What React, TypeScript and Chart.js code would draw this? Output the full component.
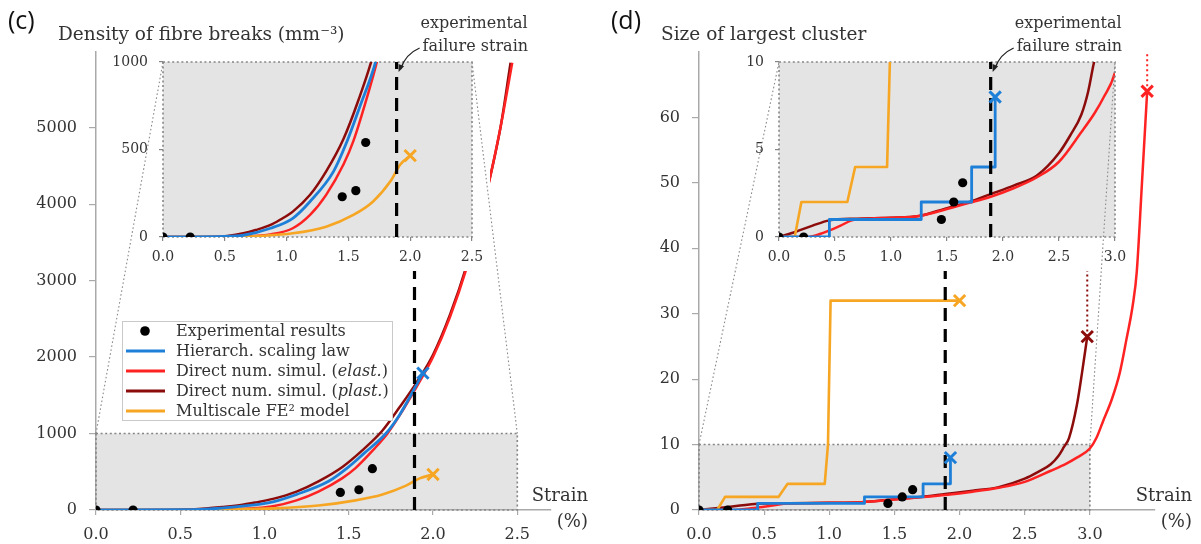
import { useEffect, useRef } from "react";
import { Chart, registerables } from "chart.js";

Chart.register(...registerables);

const SERIF = '"DejaVu Serif", "Liberation Serif", serif';
const SANS = '"Open Sans", "Liberation Sans", sans-serif';

const COLOR_EXP = "#000000";
const COLOR_HIER = "#1e7fd8";
const COLOR_ELAST = "#ff2222";
const COLOR_PLAST = "#8c0b0b";
const COLOR_FE2 = "#f6a623";
const COLOR_SHADE = "#e4e4e4";
const COLOR_AXIS = "#a9a9a9";
const COLOR_DOTS = "#858585";
const COLOR_TEXT = "#333333";

const FAILURE_STRAIN = 1.89;

// ---- (c) density of fibre breaks (mm^-3) against strain (%) ----
const C_EXP_STRAIN = [0, 0.22, 1.45, 1.56, 1.64];
const C_EXP_DENSITY = [0, 0, 230, 265, 540];

const C_HIER_STRAIN = [0, 0.5, 0.65, 0.87, 1.05, 1.19, 1.38, 1.49, 1.59, 1.72, 1.8, 1.94];
const C_HIER_DENSITY = [0, 3, 10, 50, 107, 203, 375, 548, 740, 1000, 1240, 1790];

const C_ELAST_STRAIN = [0, 0.6, 0.87, 1.05, 1.19, 1.32, 1.46, 1.54, 1.65, 1.73, 1.8, 1.9, 2.0, 2.1, 2.2, 2.3, 2.4, 2.47];
const C_ELAST_DENSITY = [0, 3, 15, 50, 126, 241, 414, 548, 797, 1000, 1230, 1600, 2000, 2520, 3170, 3980, 5000, 5850];

const C_PLAST_STRAIN = [0, 0.4, 0.52, 0.65, 0.75, 0.87, 0.95, 1.05, 1.19, 1.32, 1.46, 1.58, 1.7, 1.8, 1.9, 2.0, 2.1, 2.2, 2.3, 2.4, 2.46];
const C_PLAST_DENSITY = [0, 0, 6, 21, 40, 69, 100, 145, 241, 375, 560, 780, 1040, 1340, 1660, 2030, 2550, 3200, 4000, 5000, 5850];

const C_FE2_STRAIN = [0, 0.5, 0.78, 1.05, 1.32, 1.54, 1.7, 1.84, 1.92, 2.0];
const C_FE2_DENSITY = [0, 0, 6, 21, 59, 126, 203, 318, 414, 465];

const C_X_TICKS = [0, 0.5, 1, 1.5, 2, 2.5];
const C_Y_TICKS = [0, 1000, 2000, 3000, 4000, 5000];
const C_INSET_Y_TICKS = [0, 500, 1000];
const C_ZOOM: [number, number] = [2.5, 1000];

// ---- (d) size of largest cluster against strain (%) ----
const D_EXP_STRAIN = [0, 0.22, 1.45, 1.56, 1.64];
const D_EXP_SIZE = [0, 0, 1, 2, 3.1];

const D_HIER_STRAIN = [0, 0.45, 0.45, 1.27, 1.27, 1.72, 1.72, 1.93, 1.93];
const D_HIER_SIZE = [0, 0, 1, 1, 2, 2, 4, 4, 8];

const D_ELAST_STRAIN = [0, 0.25, 0.4, 0.55, 0.65, 0.8, 1.0, 1.25, 1.5, 1.7, 1.89, 2.1, 2.3, 2.5, 2.7, 2.82, 2.9, 3.0, 3.05, 3.1, 3.17, 3.23, 3.28, 3.33, 3.36, 3.4, 3.44];
const D_ELAST_SIZE = [0, 0, 0.25, 0.65, 0.95, 1.05, 1.1, 1.2, 1.6, 1.95, 2.3, 2.8, 3.4, 4.3, 6.0, 7.1, 8.0, 9.4, 11, 13.5, 17, 21, 26, 31.4, 36.4, 50, 64];

const D_PLAST_STRAIN = [0, 0.15, 0.3, 0.45, 0.7, 1.0, 1.25, 1.5, 1.7, 1.89, 2.1, 2.3, 2.5, 2.6, 2.7, 2.76, 2.8, 2.84, 2.9, 2.94, 2.98];
const D_PLAST_SIZE = [0, 0.3, 0.65, 0.95, 1.05, 1.1, 1.2, 1.65, 2.0, 2.45, 2.95, 3.5, 4.8, 5.8, 7.0, 8.3, 9.6, 11, 16, 21, 26.5];

const D_FE2_STRAIN = [0, 0.14, 0.2, 0.61, 0.68, 0.965, 0.99, 1.01, 2.0];
const D_FE2_SIZE = [0, 0, 2, 2, 4, 4, 10, 32, 32];

const D_X_TICKS = [0, 0.5, 1, 1.5, 2, 2.5, 3];
const D_Y_TICKS = [0, 10, 20, 30, 40, 50, 60];
const D_INSET_Y_TICKS = [0, 5, 10];
const D_ZOOM: [number, number] = [3, 10];

type Rich = [string, boolean][];

const NAME_EXP: Rich = [["Experimental results", false]];
const NAME_HIER: Rich = [["Hierarch. scaling law", false]];
const NAME_ELAST: Rich = [["Direct num. simul. (", false], ["elast.", true], [")", false]];
const NAME_PLAST: Rich = [["Direct num. simul. (", false], ["plast.", true], [")", false]];
const NAME_FE2: Rich = [["Multiscale FE\u00B2 model", false]];

interface Curve {
  name: Rich;
  color: string;
  strain: number[];
  value: number[];
  smooth: boolean;
  width: number;
  marker: boolean;
  extend: boolean;
  order: number;
}

interface Frame {
  padding: { left: number; right: number; top: number; bottom: number };
  yWidth: number;
  xHeight: number;
}

interface Panel {
  label: string;
  title: string;
  exp: [number[], number[]];
  curves: Curve[];
  xMax: number;
  yMax: number;
  xTicks: number[];
  yTicks: number[];
  insetYTicks: number[];
  zoom: [number, number];
  legend: boolean;
  main: Frame;
  inset: Frame;
}

const PANEL_C: Panel = {
  label: "(c)",
  title: "Density of fibre breaks (mm\u207B\u00B3)",
  exp: [C_EXP_STRAIN, C_EXP_DENSITY],
  curves: [
    { name: NAME_HIER, color: COLOR_HIER, strain: C_HIER_STRAIN, value: C_HIER_DENSITY, smooth: true, width: 2.8, marker: true, extend: false, order: 3 },
    { name: NAME_ELAST, color: COLOR_ELAST, strain: C_ELAST_STRAIN, value: C_ELAST_DENSITY, smooth: true, width: 2.5, marker: false, extend: false, order: 5 },
    { name: NAME_PLAST, color: COLOR_PLAST, strain: C_PLAST_STRAIN, value: C_PLAST_DENSITY, smooth: true, width: 2.5, marker: false, extend: false, order: 6 },
    { name: NAME_FE2, color: COLOR_FE2, strain: C_FE2_STRAIN, value: C_FE2_DENSITY, smooth: true, width: 2.6, marker: true, extend: false, order: 4 },
  ],
  xMax: 2.7,
  yMax: 5990,
  xTicks: C_X_TICKS,
  yTicks: C_Y_TICKS,
  insetYTicks: C_INSET_Y_TICKS,
  zoom: C_ZOOM,
  legend: true,
  main: { padding: { left: 36, right: 49, top: 52, bottom: 0 }, yWidth: 60, xHeight: 34 },
  inset: { padding: { left: 113, right: 128, top: 62, bottom: 277 }, yWidth: 50, xHeight: 30 },
};

const PANEL_D: Panel = {
  label: "(d)",
  title: "Size of largest cluster",
  exp: [D_EXP_STRAIN, D_EXP_SIZE],
  curves: [
    { name: NAME_HIER, color: COLOR_HIER, strain: D_HIER_STRAIN, value: D_HIER_SIZE, smooth: false, width: 2.8, marker: true, extend: false, order: 3 },
    { name: NAME_ELAST, color: COLOR_ELAST, strain: D_ELAST_STRAIN, value: D_ELAST_SIZE, smooth: true, width: 2.5, marker: true, extend: true, order: 5 },
    { name: NAME_PLAST, color: COLOR_PLAST, strain: D_PLAST_STRAIN, value: D_PLAST_SIZE, smooth: true, width: 2.5, marker: true, extend: true, order: 6 },
    { name: NAME_FE2, color: COLOR_FE2, strain: D_FE2_STRAIN, value: D_FE2_SIZE, smooth: false, width: 2.6, marker: true, extend: false, order: 4 },
  ],
  xMax: 3.5,
  yMax: 70,
  xTicks: D_X_TICKS,
  yTicks: D_Y_TICKS,
  insetYTicks: D_INSET_Y_TICKS,
  zoom: D_ZOOM,
  legend: false,
  main: { padding: { left: 39, right: 46, top: 52, bottom: 0 }, yWidth: 60, xHeight: 34 },
  inset: { padding: { left: 129, right: 86, top: 62, bottom: 277 }, yWidth: 50, xHeight: 30 },
};

const pts = (xs: number[], ys: number[]) => xs.map((x, i) => ({ x, y: ys[i] }));

function buildDatasets(p: Panel, yTop: number) {
  const ds: any[] = [];
  ds.push({
    data: pts(p.exp[0], p.exp[1]),
    showLine: false,
    pointRadius: 4.6,
    pointStyle: "circle",
    pointBackgroundColor: COLOR_EXP,
    pointBorderColor: COLOR_EXP,
    pointBorderWidth: 0,
    order: 0,
  });
  ds.push({
    data: [
      { x: FAILURE_STRAIN, y: 0 },
      { x: FAILURE_STRAIN, y: yTop },
    ],
    borderColor: "#000",
    borderWidth: 3.2,
    borderDash: [13, 8],
    pointRadius: 0,
    tension: 0,
    order: 2,
  });
  for (const c of p.curves) {
    ds.push({
      data: pts(c.strain, c.value),
      borderColor: c.color,
      borderWidth: c.width,
      pointRadius: 0,
      tension: c.smooth ? 0.3 : 0,
      cubicInterpolationMode: c.smooth ? "monotone" : "default",
      borderJoinStyle: "round",
      order: c.order,
    });
    const last = { x: c.strain[c.strain.length - 1], y: c.value[c.value.length - 1] };
    if (c.marker) {
      ds.push({
        data: [last],
        showLine: false,
        pointStyle: "crossRot",
        pointRadius: 8,
        pointBorderWidth: 3,
        pointBorderColor: c.color,
        pointBackgroundColor: c.color,
        order: 1,
      });
    }
    if (c.extend) {
      ds.push({
        data: [last, { x: last.x, y: yTop }],
        borderColor: c.color,
        borderWidth: 2,
        borderDash: [2, 3],
        pointRadius: 0,
        tension: 0,
        order: c.order,
      });
    }
  }
  return ds;
}

function axis(
  max: number,
  ticks: number[],
  fmt: (v: number) => string,
  fontSize: number,
  tickLength: number,
  padding: number,
  size: number,
  horizontal: boolean,
  solid: boolean
) {
  return {
    type: "linear",
    min: 0,
    max,
    afterBuildTicks: (s: any) => {
      s.ticks = ticks.map((v) => ({ value: v }));
    },
    afterFit: (s: any) => {
      if (horizontal) s.height = size;
      else s.width = size;
    },
    ticks: {
      callback: (v: number) => fmt(Number(v)),
      font: { family: SERIF, size: fontSize },
      color: COLOR_TEXT,
      padding,
      maxRotation: 0,
      autoSkip: false,
    },
    grid: {
      display: true,
      drawOnChartArea: false,
      drawTicks: true,
      tickLength,
      color: solid ? COLOR_AXIS : COLOR_DOTS,
      lineWidth: 1.2,
    },
    border: { display: solid, color: COLOR_AXIS, width: 1.5 },
  };
}

function dottedRect(ctx: CanvasRenderingContext2D, l: number, t: number, r: number, b: number) {
  ctx.save();
  ctx.strokeStyle = COLOR_DOTS;
  ctx.lineWidth = 1.6;
  ctx.setLineDash([2, 2.6]);
  ctx.strokeRect(l, t, r - l, b - t);
  ctx.restore();
}

function drawRich(ctx: CanvasRenderingContext2D, parts: Rich, x: number, y: number, size: number) {
  let cx = x;
  for (const [text, italic] of parts) {
    ctx.font = `${italic ? "italic " : ""}${size}px ${SERIF}`;
    ctx.fillText(text, cx, y);
    cx += ctx.measureText(text).width;
  }
}

function mainDecor(p: Panel) {
  return {
    id: "mainDecor",
    beforeDraw(chart: any) {
      const { ctx } = chart;
      const x = chart.scales.x;
      const y = chart.scales.y;
      const l = x.getPixelForValue(0);
      const r = x.getPixelForValue(p.zoom[0]);
      const t = y.getPixelForValue(p.zoom[1]);
      const b = y.getPixelForValue(0);
      ctx.save();
      ctx.fillStyle = COLOR_SHADE;
      ctx.fillRect(l, t, r - l, b - t);
      ctx.restore();
    },
    beforeDatasetsDraw(chart: any) {
      const x = chart.scales.x;
      const y = chart.scales.y;
      dottedRect(
        chart.ctx,
        x.getPixelForValue(0),
        y.getPixelForValue(p.zoom[1]),
        x.getPixelForValue(p.zoom[0]),
        y.getPixelForValue(0)
      );
    },
    afterDraw(chart: any) {
      const { ctx, chartArea: ca } = chart;
      ctx.save();
      ctx.textBaseline = "middle";
      ctx.textAlign = "left";
      ctx.fillStyle = "#111";
      ctx.font = `25px ${SANS}`;
      ctx.fillText(p.label, ca.left - 88, 22);
      ctx.fillStyle = COLOR_TEXT;
      ctx.font = `18.5px ${SERIF}`;
      ctx.fillText(p.title, ca.left - 38, ca.top - 17);
      ctx.textAlign = "right";
      ctx.font = `18px ${SERIF}`;
      ctx.fillText("Strain", ca.right + 37, ca.bottom - 14);
      ctx.fillText("(%)", ca.right + 37, ca.bottom + 12);

      if (p.legend) {
        const x0 = ca.left + 26;
        const y0 = ca.top + 269;
        const w = 270;
        const h = 99;
        ctx.fillStyle = "#fff";
        ctx.fillRect(x0, y0, w, h);
        ctx.strokeStyle = "#c9c9c9";
        ctx.lineWidth = 1;
        ctx.strokeRect(x0 + 0.5, y0 + 0.5, w, h);
        const entries: { name: Rich; color: string; dot: boolean }[] = [
          { name: NAME_EXP, color: COLOR_EXP, dot: true },
          ...p.curves.map((c) => ({ name: c.name, color: c.color, dot: false })),
        ];
        entries.forEach((e, i) => {
          const cy = y0 + 10 + i * 20;
          if (e.dot) {
            ctx.fillStyle = e.color;
            ctx.beginPath();
            ctx.arc(x0 + 23, cy, 4.8, 0, Math.PI * 2);
            ctx.fill();
          } else {
            ctx.strokeStyle = e.color;
            ctx.lineWidth = 3;
            ctx.beginPath();
            ctx.moveTo(x0 + 4, cy);
            ctx.lineTo(x0 + 43, cy);
            ctx.stroke();
          }
          ctx.fillStyle = COLOR_TEXT;
          ctx.textAlign = "left";
          drawRich(ctx, e.name, x0 + 54, cy + 1, 16);
        });
      }
      ctx.restore();
    },
  };
}

function insetDecor(p: Panel, main: Chart) {
  return {
    id: "insetDecor",
    beforeDraw(chart: any) {
      const { ctx, chartArea: ca } = chart;
      ctx.save();
      ctx.fillStyle = "#fff";
      ctx.fillRect(ca.left - 60, ca.top - 10, ca.right - ca.left + 78, ca.bottom - ca.top + 44);
      ctx.fillStyle = COLOR_SHADE;
      ctx.fillRect(ca.left, ca.top, ca.right - ca.left, ca.bottom - ca.top);
      ctx.restore();
    },
    beforeDatasetsDraw(chart: any) {
      const ca = chart.chartArea;
      dottedRect(chart.ctx, ca.left, ca.top, ca.right, ca.bottom);
    },
    afterDraw(chart: any) {
      const { ctx, chartArea: ca } = chart;
      const mx = (main as any).scales.x;
      const my = (main as any).scales.y;
      ctx.save();
      // zoom connectors from the shaded window to the inset
      ctx.strokeStyle = "#8a8a8a";
      ctx.lineWidth = 1.1;
      ctx.setLineDash([1.6, 2.4]);
      ctx.beginPath();
      ctx.moveTo(mx.getPixelForValue(0), my.getPixelForValue(p.zoom[1]));
      ctx.lineTo(ca.left, ca.top);
      ctx.moveTo(mx.getPixelForValue(p.zoom[0]), my.getPixelForValue(p.zoom[1]));
      ctx.lineTo(ca.right, ca.top);
      ctx.stroke();
      ctx.setLineDash([]);

      // failure strain annotation
      const fx = chart.scales.x.getPixelForValue(FAILURE_STRAIN);
      ctx.fillStyle = COLOR_TEXT;
      ctx.font = `16px ${SERIF}`;
      ctx.textAlign = "left";
      ctx.textBaseline = "middle";
      ctx.fillText("experimental", fx + 24, 24);
      ctx.fillText("failure strain", fx + 26, 47);

      const sx = fx + 23;
      const sy = 48;
      const ex = fx + 2;
      const ey = 72;
      const cx = fx + 9;
      const cy = 54;
      ctx.strokeStyle = "#222";
      ctx.lineWidth = 1.3;
      ctx.beginPath();
      ctx.moveTo(sx, sy);
      ctx.quadraticCurveTo(cx, cy, ex + 2, ey - 3);
      ctx.stroke();
      const ang = Math.atan2(ey - cy, ex - cx);
      ctx.fillStyle = "#222";
      ctx.beginPath();
      ctx.moveTo(ex, ey);
      ctx.lineTo(ex - 8 * Math.cos(ang - 0.38), ey - 8 * Math.sin(ang - 0.38));
      ctx.lineTo(ex - 8 * Math.cos(ang + 0.38), ey - 8 * Math.sin(ang + 0.38));
      ctx.closePath();
      ctx.fill();
      ctx.restore();
    },
  };
}

const BASE_OPTIONS = {
  animation: false,
  responsive: false,
  maintainAspectRatio: false,
  events: [],
  plugins: { legend: { display: false }, tooltip: { enabled: false }, title: { display: false } },
};

function mainConfig(p: Panel): any {
  return {
    type: "line",
    data: { datasets: buildDatasets(p, p.yMax) },
    options: {
      ...BASE_OPTIONS,
      layout: { padding: p.main.padding },
      scales: {
        x: axis(p.xMax, p.xTicks, (v) => v.toFixed(1), 16, 5, 10, p.main.xHeight, true, true),
        y: axis(p.yMax, p.yTicks, (v) => String(v), 16, 7, 12, p.main.yWidth, false, true),
      },
    },
    plugins: [mainDecor(p)],
  };
}

function insetConfig(p: Panel, main: Chart): any {
  return {
    type: "line",
    data: { datasets: buildDatasets(p, p.zoom[1]) },
    options: {
      ...BASE_OPTIONS,
      layout: { padding: p.inset.padding },
      scales: {
        x: axis(p.zoom[0], p.xTicks.filter((v) => v <= p.zoom[0]), (v) => v.toFixed(1), 14, 4, 8, p.inset.xHeight, true, false),
        y: axis(p.zoom[1], p.insetYTicks, (v) => String(v), 14, 4, 11, p.inset.yWidth, false, false),
      },
    },
    plugins: [insetDecor(p, main)],
  };
}

export default function App() {
  const cMain = useRef<HTMLCanvasElement>(null);
  const cInset = useRef<HTMLCanvasElement>(null);
  const dMain = useRef<HTMLCanvasElement>(null);
  const dInset = useRef<HTMLCanvasElement>(null);

  useEffect(() => {
    const charts: Chart[] = [];
    const mc = new Chart(cMain.current!, mainConfig(PANEL_C));
    charts.push(mc);
    charts.push(new Chart(cInset.current!, insetConfig(PANEL_C, mc)));
    const md = new Chart(dMain.current!, mainConfig(PANEL_D));
    charts.push(md);
    charts.push(new Chart(dInset.current!, insetConfig(PANEL_D, md)));
    return () => charts.forEach((c) => c.destroy());
  }, []);

  const layer = (left: number, width: number) => ({
    position: "absolute" as const,
    left,
    top: 0,
    width,
    height: 544,
  });

  return (
    <div style={{ position: "absolute", left: 0, top: 0, width: 1201, height: 544, background: "#fff", overflow: "hidden" }}>
      <canvas ref={cMain} width={600} height={544} style={layer(0, 600)} />
      <canvas ref={cInset} width={600} height={544} style={layer(0, 600)} />
      <canvas ref={dMain} width={601} height={544} style={layer(600, 601)} />
      <canvas ref={dInset} width={601} height={544} style={layer(600, 601)} />
    </div>
  );
}
